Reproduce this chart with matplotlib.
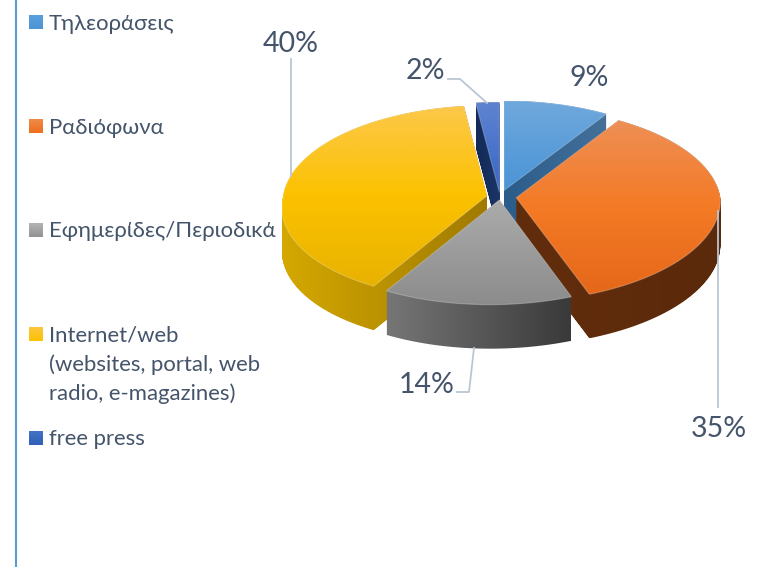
import numpy as np
import matplotlib
matplotlib.use("Agg")
import matplotlib.pyplot as plt
from matplotlib.patches import PathPatch
from matplotlib.path import Path

# data
labels = ["Τηλεοράσεις", "Ραδιόφωνα", "Εφημερίδες/Περιοδικά",
          "Internet/web\n(websites, portal, web\nradio, e-magazines)", "free press"]
values = [9, 35, 14, 40, 2]
pct_labels = ["9%", "35%", "14%", "40%", "2%"]

explode = [0.07, 0.08, 0.03, 0.065, 0.05]

# gradient stops, top to bottom for the faces, left to right for the sides
top_colors = [["#6fa8dc", "#4a94d6"],
              ["#ee8f55", "#f47a25", "#e5681a"],
              ["#ababab", "#8c8c8c"],
              ["#fcc84a", "#fcc200", "#e8b200"],
              ["#5f83d0", "#3867c8"]]
side_colors = [["#2b5c8a", "#44719a"],
               ["#622d0c", "#5b2a0b"],
               ["#767676", "#3a3a3a"],
               ["#d4a800", "#a07a00"],
               ["#122a58", "#1b3566"]]
legend_colors = [["#5b9fdd", "#4c94d5"], ["#f08a4a", "#ee6f1c"], ["#b4b4b4", "#929292"],
                 ["#fcc63e", "#fcc200"], ["#4472c4", "#2f5fb8"]]

draw_order = [4, 0, 3, 1, 2]  # back to front

# projection of the unit pie onto the picture
cx, cy = 500, 197
rx, ry = 204, 97
persp = 0.07
lean = 9
depth = 44

text_color = "#44546a"
line_color = "#b9c6d6"
font = ["Lato", "Open Sans", "DejaVu Sans"]


def project(x, y):
    s = 1 / (1 + persp * y)
    # the front of the pie sits a little to the left
    return cx + rx * x * s - lean * np.maximum(-y, 0), cy - ry * y * s


def gradient_image(colors, vertical):
    rgb = np.array([matplotlib.colors.to_rgb(c) for c in colors])
    stops = np.linspace(0, 1, len(colors))
    pos = np.linspace(0, 1, 64)
    ramp = np.column_stack([np.interp(pos, stops, rgb[:, k]) for k in range(3)])
    if vertical:
        return ramp[:, None, :]
    return ramp[None, :, :]


fig, ax = plt.subplots(figsize=(7.64, 5.67), dpi=100)
fig.subplots_adjust(left=0, right=1, top=1, bottom=0)

wedges, _ = ax.pie(values, explode=explode, startangle=90, counterclock=False, radius=1)

for i in draw_order:
    w = wedges[i]
    w.set_visible(False)
    t = np.radians(np.linspace(w.theta1, w.theta2, 80))
    x = np.r_[w.center[0], w.center[0] + w.r * np.cos(t)]
    y = np.r_[w.center[1], w.center[1] + w.r * np.sin(t)]
    px, py = project(x, y)
    xy = np.column_stack([px, py])
    xy = np.vstack([xy, xy[0]])

    # side: the face swept down, step by step
    layers = [Path(xy + [0, k], closed=True) for k in range(depth + 1)]
    side_path = Path.make_compound_path(*layers)
    z = 2 + draw_order.index(i) * 3
    side_patch = PathPatch(side_path, facecolor="none", edgecolor="none", transform=ax.transData)
    ax.add_patch(side_patch)
    side_img = ax.imshow(gradient_image(side_colors[i], False), aspect="auto",
                         extent=(px.min(), px.max(), py.max() + depth, py.min()),
                         interpolation="bilinear", zorder=z)
    side_img.set_clip_path(side_patch)

    # top face
    top_path = Path(xy, closed=True)
    top_patch = PathPatch(top_path, facecolor="none", edgecolor="none", transform=ax.transData)
    ax.add_patch(top_patch)
    top_img = ax.imshow(gradient_image(top_colors[i], True), aspect="auto",
                        extent=(px.min(), px.max(), py.max(), py.min()),
                        interpolation="bilinear", zorder=z + 1)
    top_img.set_clip_path(top_patch)
    ax.add_patch(PathPatch(top_path, facecolor="none", edgecolor="white", alpha=0.25,
                           linewidth=0.8, zorder=z + 2))

ax.set_aspect("auto")
ax.axis("off")

# page border on the left
ax.plot([16, 16], [0, 567], color="#5b9bd5", linewidth=1.5, zorder=1)

# leader lines
leaders = [([291, 291], [59, 176]),
           ([448, 460, 487], [79, 79, 103]),
           ([457, 469, 474], [392, 392, 348]),
           ([718, 718], [211, 407])]
for lx, ly in leaders:
    ax.plot(lx, ly, color=line_color, linewidth=1.3, zorder=20)

# value labels
label_pos = [(589, 86), (719, 437), (427, 393), (291, 52), (425, 79)]
for s, (tx, ty) in zip(pct_labels, label_pos):
    ax.text(tx, ty, s, color=text_color, fontsize=20.5, ha="center", va="baseline", family=font, zorder=21)

# legend
key_tops = [15, 119, 223, 327, 431]
baselines = [30, 134, 237, 341, 445]
for lab, kt, b, c in zip(labels, key_tops, baselines, legend_colors):
    ax.imshow(gradient_image(c, True), aspect="auto", extent=(29, 43, kt + 14, kt),
              interpolation="bilinear", zorder=6)
    for j, part in enumerate(lab.split("\n")):
        ax.text(49, b + j * 29.7, part, color=text_color, fontsize=15.9, ha="left", va="baseline",
                family=font, zorder=21)

ax.set_xlim(0, 764)
ax.set_ylim(567, 0)
fig.savefig("out.png", dpi=100, facecolor="white")
